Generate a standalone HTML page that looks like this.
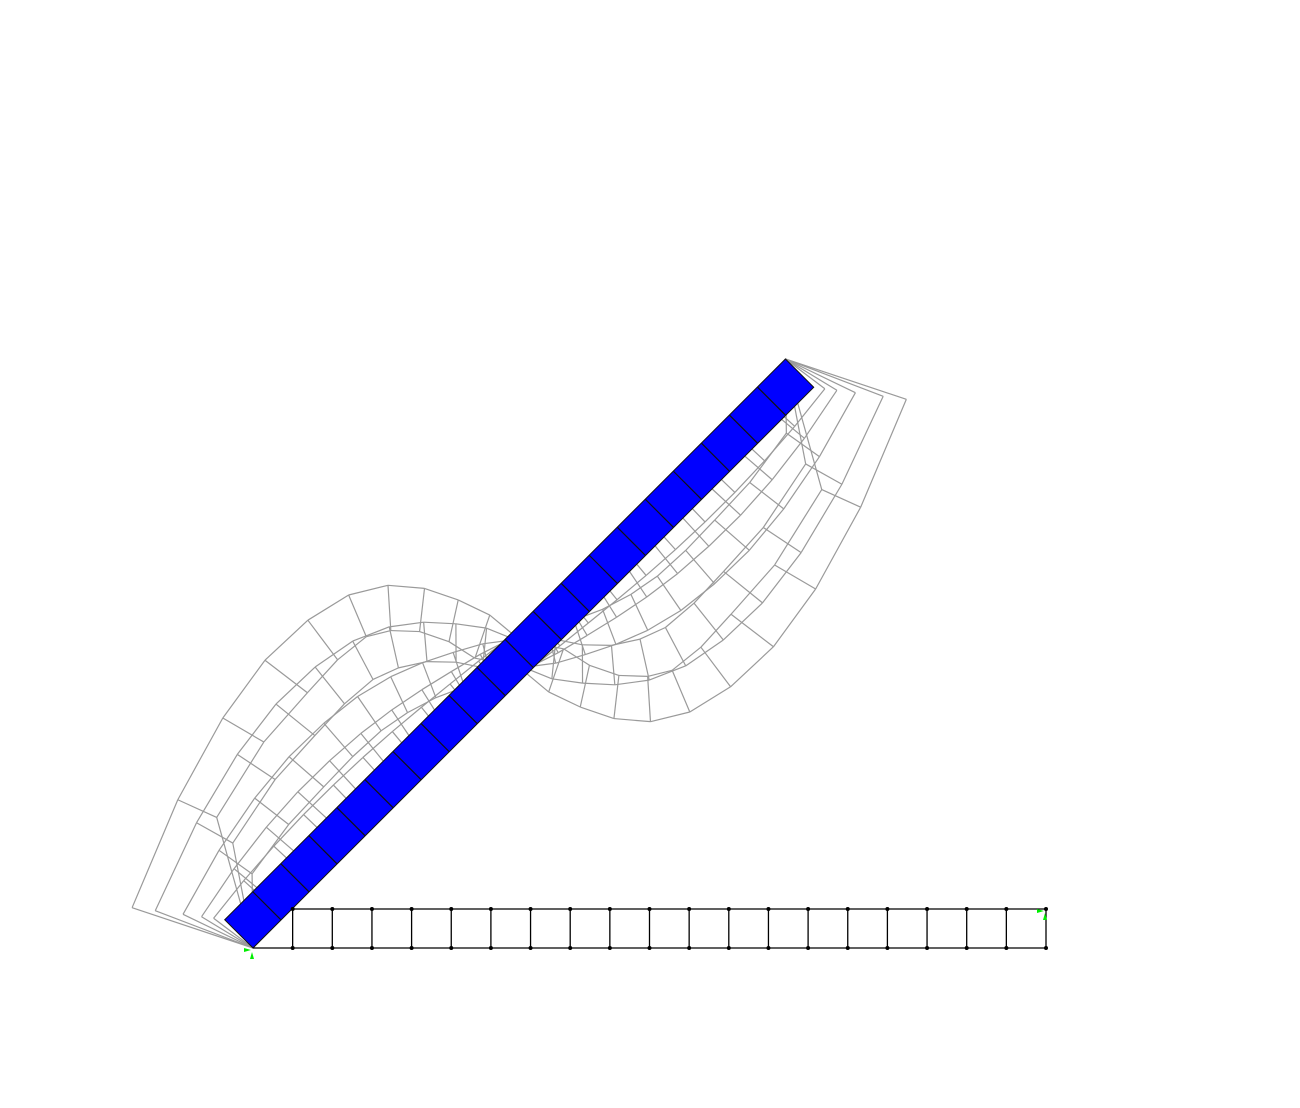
<!DOCTYPE html>
<html><head><meta charset="utf-8"><style>
html,body{margin:0;padding:0;background:#fff;}
svg{display:block;}
</style></head><body>
<svg id="chart" width="1300" height="1108" viewBox="0 0 1300 1108" xmlns="http://www.w3.org/2000/svg">
<g id="deformed"></g>
<g id="beam"></g>
<g id="undeformed"></g>
<g id="supports"></g>
</svg>
<script>
// outer-frame nodal displacements (pixels, local beam coords), edge t=0 and edge t=40
const transverseEdge0 = [0,118,138,142,144,140,127,106,78,48,12,-28,-61,-93,-121,-142,-153,-155,-144,-118,-74];
const axialEdge0 = [0,27,74,100,105,102,84,64,38,5,-10,-46,-74,-98,-114,-119,-112,-93,-62,-12,57];
const transverseEdge1 = [74,118,144,155,153,142,121,93,61,28,-12,-48,-78,-106,-127,-140,-144,-142,-138,-118,0];
const axialEdge1 = [-57,12,62,93,112,119,114,98,74,46,10,-5,-38,-64,-84,-102,-105,-100,-74,-27,0];
const frameScales = [1, 0.75, 0.45, 0.25, 0.12];
const nElem = 20;

const NS='http://www.w3.org/2000/svg';
const B={x:253,y:948}, L=793, W=40;
const u={x:0.7071,y:-0.7071}, n={x:-0.7071,y:-0.7071};
function P(s,t){return {x:B.x+s*u.x+t*n.x, y:B.y+s*u.y+t*n.y};}
function line(g,a,b,stroke,w,name){
  const l=document.createElementNS(NS,'line');
  l.setAttribute('x1',a.x);l.setAttribute('y1',a.y);l.setAttribute('x2',b.x);l.setAttribute('y2',b.y);
  l.setAttribute('stroke',stroke);l.setAttribute('stroke-width',w);
  
  
  g.appendChild(l);
}
const dg=document.getElementById('deformed');
frameScales.forEach(k=>{
  const inner=[],outer=[];
  for(let i=0;i<=nElem;i++){
    const s=i*L/nElem;
    inner.push(P(s+k*axialEdge0[i], k*transverseEdge0[i]));
    outer.push(P(s+k*axialEdge1[i], W+k*transverseEdge1[i]));
  }
  for(let i=0;i<=nElem;i++){
    line(dg,inner[i],outer[i],'#9a9a9a',1.2,'deformed-cross-line');
    if(i<nElem){
      line(dg,inner[i],inner[i+1],'#9a9a9a',1.2,'deformed-edge');
      line(dg,outer[i],outer[i+1],'#9a9a9a',1.2,'deformed-edge');
    }
  }
});
// blue rotated beam
const bg=document.getElementById('beam');
const poly=document.createElementNS(NS,'polygon');
const c=[P(0,0),P(L,0),P(L,W),P(0,W)];
poly.setAttribute('points',c.map(p=>p.x+','+p.y).join(' '));
poly.setAttribute('fill','#0000ff');poly.setAttribute('stroke','#111');poly.setAttribute('stroke-width','1');


bg.appendChild(poly);
for(let i=1;i<nElem;i++){line(bg,P(i*L/nElem,0),P(i*L/nElem,W),'#111',1.2,'beam-element-divider');}
// undeformed horizontal mesh
const ug=document.getElementById('undeformed');
const yT=909,yB=948;
line(ug,{x:292,y:yT},{x:1046,y:yT},'#000',1.3,'undeformed-top-edge');
line(ug,{x:253,y:yB},{x:1046,y:yB},'#000',1.3,'undeformed-bottom-edge');
for(let i=1;i<=nElem;i++){
  const x=253+i*L/nElem;
  line(ug,{x:x,y:yT},{x:x,y:yB},'#000',1.3,'undeformed-element-line');
  [yT,yB].forEach(y=>{
    const d=document.createElementNS(NS,'circle');
    d.setAttribute('cx',x);d.setAttribute('cy',y);d.setAttribute('r',2);d.setAttribute('fill','#000');
    
    
    ug.appendChild(d);
  });
}
// supports
const sg=document.getElementById('supports');
[[253,950],[1046,911]].forEach(([x,y])=>{
  const p=document.createElementNS(NS,'path');
  p.setAttribute('d',`M${x-1},${y+2} l-2,7 l4,0 z M${x-2},${y} l-7,-2 l0,4 z`);
  p.setAttribute('fill','#00ee00');
  
  
  sg.appendChild(p);
});
</script>
</body></html>
